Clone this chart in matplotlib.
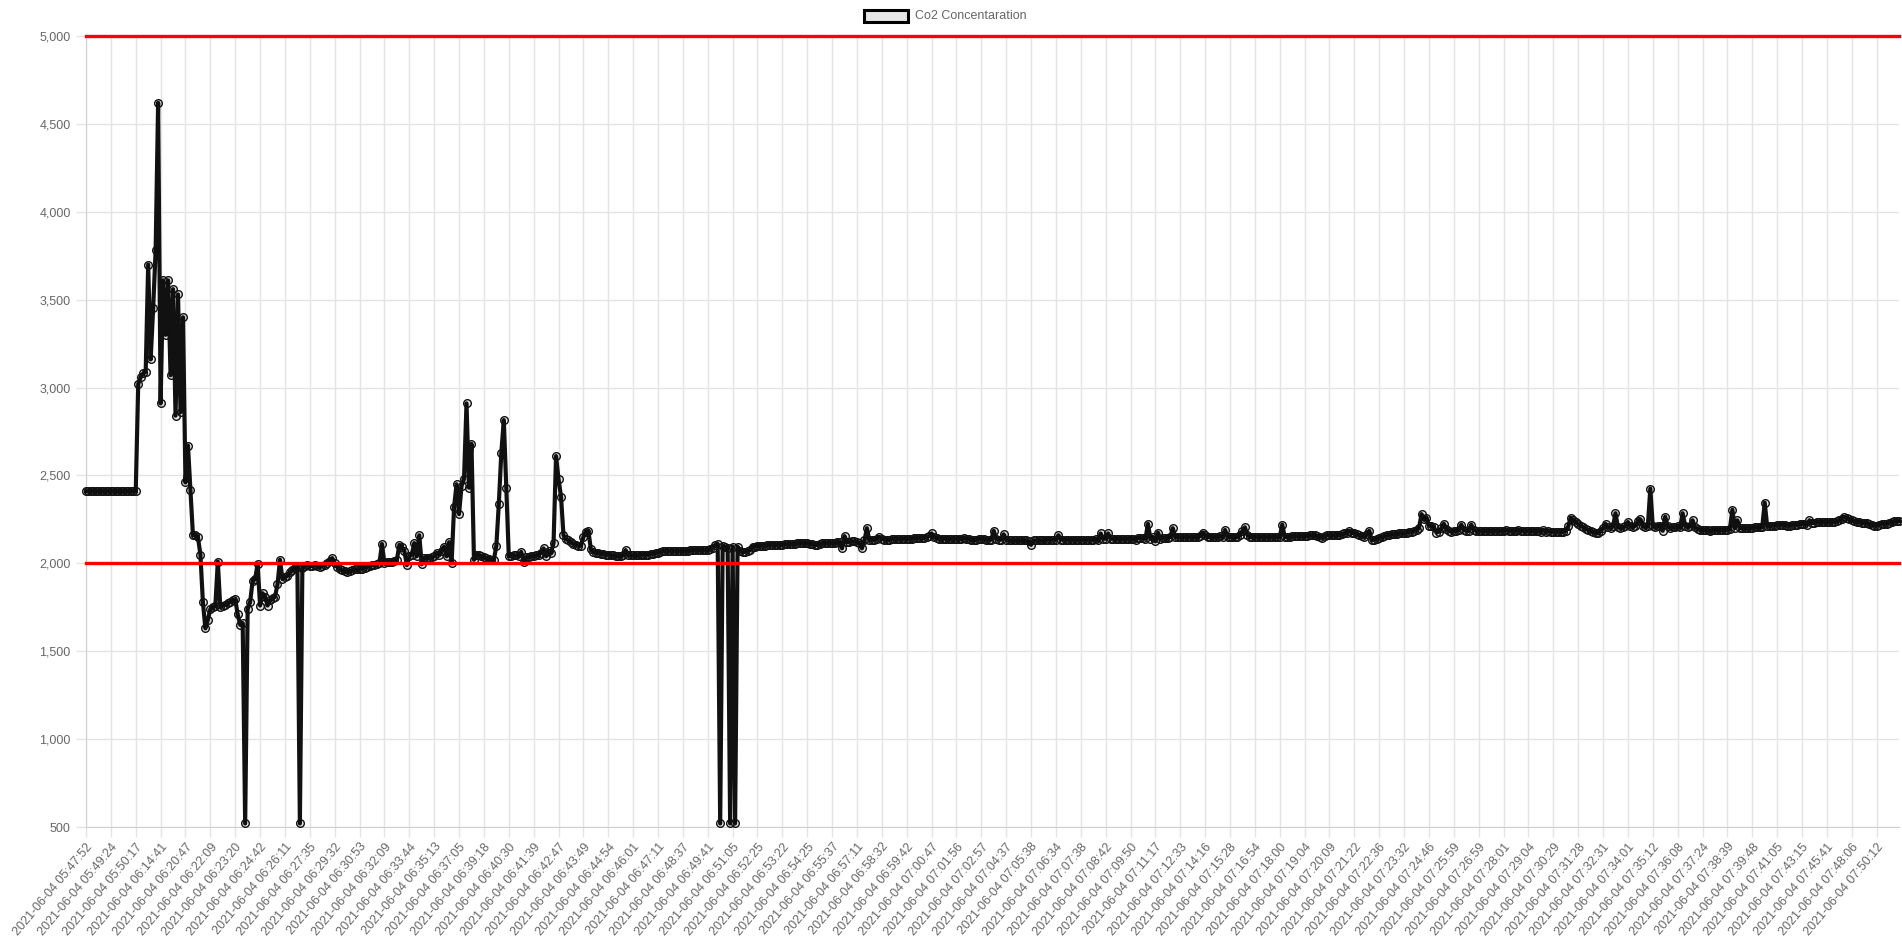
import matplotlib
matplotlib.use("Agg")
import matplotlib.pyplot as plt
from matplotlib.ticker import FuncFormatter, MultipleLocator

plt.rcParams["font.family"] = ["Liberation Sans", "DejaVu Sans"]

# tick labels shown on the category axis (one every 10 readings)
day = "2021-06-04"
tick_times = [
    "05:47:52", "05:49:24", "05:50:17", "06:14:41", "06:20:47", "06:22:09",
    "06:23:20", "06:24:42", "06:26:11", "06:27:35", "06:29:32", "06:30:53",
    "06:32:09", "06:33:44", "06:35:13", "06:37:05", "06:39:18", "06:40:30",
    "06:41:39", "06:42:47", "06:43:49", "06:44:54", "06:46:01", "06:47:11",
    "06:48:37", "06:49:41", "06:51:05", "06:52:25", "06:53:22", "06:54:25",
    "06:55:37", "06:57:11", "06:58:32", "06:59:42", "07:00:47", "07:01:56",
    "07:02:57", "07:04:37", "07:05:38", "07:06:34", "07:07:38", "07:08:42",
    "07:09:50", "07:11:17", "07:12:33", "07:14:16", "07:15:28", "07:16:54",
    "07:18:00", "07:19:04", "07:20:09", "07:21:22", "07:22:36", "07:23:32",
    "07:24:46", "07:25:59", "07:26:59", "07:28:01", "07:29:04", "07:30:29",
    "07:31:28", "07:32:31", "07:34:01", "07:35:12", "07:36:08", "07:37:24",
    "07:38:39", "07:39:48", "07:41:05", "07:43:15", "07:45:41", "07:48:06",
    "07:50:12",
]
tick_labels = [f"{day} {t}" for t in tick_times]
readings_per_tick = 10

# Co2 readings (ppm), one row per labelled interval
co2 = [
    2410, 2410, 2410, 2410, 2410, 2410, 2410, 2410, 2410, 2410,
    2410, 2410, 2410, 2410, 2410, 2410, 2410, 2410, 2410, 2410,
    2410, 3020, 3060, 3080, 3090, 3700, 3160, 3450, 3780, 4620,
    2910, 3610, 3300, 3610, 3070, 3560, 2840, 3530, 2860, 3400,
    2460, 2670, 2420, 2160, 2160, 2150, 2050, 1780, 1630, 1680,
    1740, 1750, 1755, 2010, 1750, 1760, 1765, 1775, 1780, 1790,
    1795, 1710, 1650, 1660, 520, 1740, 1780, 1900, 1910, 1995,
    1760, 1830, 1810, 1760, 1790, 1800, 1810, 1880, 2020, 1910,
    1920, 1930, 1950, 1960, 1975, 1980, 520, 1975, 1985, 1990,
    1985, 1985, 1990, 1985, 1980, 1985, 1990, 2000, 2015, 2030,
    2000, 1980, 1965, 1960, 1955, 1950, 1955, 1960, 1965, 1965,
    1970, 1970, 1975, 1980, 1985, 1990, 1990, 1995, 2000, 2110,
    2000, 2005, 2010, 2010, 2015, 2020, 2105, 2095, 2070, 1990,
    2040, 2050, 2115, 2040, 2160, 1995, 2030, 2030, 2030, 2035,
    2040, 2060, 2050, 2070, 2095, 2040, 2120, 2000, 2320, 2450,
    2280, 2440, 2480, 2910, 2430, 2680, 2020, 2050, 2045, 2040,
    2035, 2030, 2025, 2020, 2020, 2100, 2340, 2630, 2815, 2430,
    2040, 2040, 2045, 2045, 2040, 2065, 2010, 2035, 2035, 2040,
    2040, 2045, 2050, 2060, 2085, 2040, 2070, 2060, 2115, 2610,
    2480, 2380, 2160, 2140, 2130, 2120, 2110, 2105, 2100, 2100,
    2150, 2180, 2185, 2080, 2065, 2060, 2060, 2055, 2055, 2050,
    2050, 2045, 2045, 2040, 2040, 2040, 2045, 2075, 2045, 2045,
    2045, 2045, 2045, 2050, 2050, 2050, 2050, 2055, 2055, 2060,
    2060, 2065, 2070, 2070, 2070, 2070, 2070, 2070, 2070, 2070,
    2070, 2070, 2070, 2075, 2075, 2075, 2075, 2075, 2075, 2075,
    2075, 2080, 2090, 2105, 2110, 520, 2100, 2095, 2090, 520,
    2095, 520, 2095, 2070, 2065, 2065, 2070, 2075, 2095, 2095,
    2100, 2100, 2100, 2100, 2105, 2105, 2105, 2105, 2105, 2105,
    2105, 2110, 2110, 2110, 2110, 2110, 2115, 2115, 2115, 2115,
    2115, 2110, 2110, 2105, 2105, 2110, 2115, 2115, 2115, 2115,
    2115, 2115, 2120, 2120, 2085, 2155, 2120, 2120, 2125, 2125,
    2120, 2115, 2085, 2130, 2200, 2130, 2135, 2135, 2140, 2150,
    2140, 2135, 2130, 2135, 2140, 2140, 2140, 2140, 2140, 2140,
    2140, 2140, 2140, 2145, 2145, 2145, 2145, 2145, 2150, 2155,
    2170, 2150, 2145, 2140, 2140, 2140, 2140, 2140, 2140, 2140,
    2140, 2140, 2140, 2145, 2140, 2140, 2135, 2130, 2135, 2140,
    2140, 2140, 2135, 2135, 2135, 2185, 2140, 2135, 2135, 2165,
    2135, 2130, 2130, 2130, 2130, 2130, 2130, 2130, 2130, 2125,
    2105, 2130, 2130, 2130, 2130, 2130, 2135, 2135, 2135, 2135,
    2135, 2160, 2135, 2135, 2135, 2135, 2135, 2135, 2135, 2135,
    2135, 2135, 2135, 2135, 2135, 2135, 2140, 2130, 2170, 2140,
    2140, 2170, 2140, 2140, 2140, 2140, 2140, 2140, 2140, 2140,
    2140, 2140, 2135, 2145, 2145, 2145, 2140, 2225, 2140, 2150,
    2125, 2175, 2140, 2145, 2145, 2145, 2150, 2200, 2150, 2150,
    2150, 2150, 2150, 2150, 2150, 2150, 2150, 2150, 2155, 2175,
    2160, 2150, 2150, 2150, 2150, 2150, 2155, 2150, 2190, 2150,
    2150, 2150, 2150, 2150, 2160, 2185, 2205, 2160, 2150, 2150,
    2150, 2150, 2150, 2150, 2150, 2150, 2150, 2150, 2150, 2150,
    2150, 2220, 2150, 2150, 2150, 2155, 2155, 2155, 2155, 2155,
    2155, 2155, 2160, 2160, 2160, 2155, 2150, 2145, 2155, 2160,
    2160, 2160, 2160, 2160, 2160, 2165, 2170, 2175, 2185, 2175,
    2170, 2165, 2160, 2155, 2150, 2165, 2185, 2130, 2135, 2140,
    2145, 2150, 2155, 2160, 2160, 2165, 2165, 2165, 2170, 2170,
    2170, 2175, 2180, 2180, 2185, 2190, 2200, 2280, 2250, 2260,
    2215, 2210, 2205, 2175, 2180, 2200, 2225, 2195, 2185, 2180,
    2185, 2185, 2190, 2220, 2190, 2185, 2185, 2220, 2190, 2185,
    2185, 2185, 2185, 2185, 2185, 2185, 2185, 2185, 2185, 2185,
    2185, 2190, 2185, 2185, 2185, 2185, 2190, 2185, 2185, 2185,
    2185, 2185, 2185, 2185, 2185, 2180, 2190, 2180, 2185, 2180,
    2180, 2180, 2180, 2180, 2180, 2185, 2210, 2260, 2245, 2235,
    2225, 2215, 2205, 2195, 2190, 2185, 2180, 2175, 2170, 2185,
    2200, 2225, 2205, 2200, 2210, 2285, 2205, 2200, 2205, 2210,
    2235, 2210, 2205, 2215, 2240, 2250, 2210, 2205, 2210, 2425,
    2210, 2205, 2210, 2215, 2185, 2265, 2210, 2200, 2205, 2205,
    2210, 2205, 2285, 2215, 2205, 2210, 2245, 2205, 2195, 2190,
    2190, 2190, 2190, 2185, 2190, 2190, 2190, 2190, 2190, 2190,
    2190, 2195, 2305, 2200, 2245, 2200, 2200, 2200, 2200, 2200,
    2200, 2205, 2205, 2205, 2205, 2345, 2210, 2210, 2215, 2215,
    2220, 2220, 2220, 2220, 2215, 2215, 2220, 2220, 2220, 2225,
    2225, 2225, 2220, 2245, 2230, 2230, 2235, 2235, 2235, 2235,
    2235, 2235, 2235, 2235, 2240, 2245, 2255, 2265, 2260, 2250,
    2245, 2240, 2235, 2235, 2230, 2230, 2230, 2225, 2220, 2215,
    2215, 2220, 2225, 2225, 2225, 2230, 2235, 2240, 2240, 2240,
]
limit_lines = [5000, 2000]

W, H = 1902, 951
fig = plt.figure(figsize=(W / 100, H / 100), dpi=100)
ax = fig.add_axes([86 / W, 1 - 827 / H, (1899 - 86) / W, (827 - 36) / H])

grid_c = "#e4e4e4"
text_c = "#666666"

x = list(range(len(co2)))
ax.plot(x, co2, color="#111111", lw=3.0, marker="o", ms=5.5,
        mfc=(0, 0, 0, 0.1), mec="#111111", mew=1.0, zorder=3,
        solid_joinstyle="round", clip_on=False)

for v in limit_lines:
    ax.axhline(v, color="#ff0000", lw=2.4, zorder=4, clip_on=False)

ax.set_xlim(0, len(co2) - 1)
ax.set_ylim(500, 5000)
ax.yaxis.set_major_locator(MultipleLocator(500))
ax.yaxis.set_major_formatter(FuncFormatter(lambda v, p: f"{int(v):,}"))

ticks = list(range(0, len(tick_labels) * readings_per_tick, readings_per_tick))
ax.set_xticks(ticks)
ax.set_xticklabels(tick_labels, rotation=50, ha="right", rotation_mode="anchor")

ax.grid(True, color=grid_c, lw=1, zorder=0)
ax.set_axisbelow(True)
for s in ["top", "right"]:
    ax.spines[s].set_visible(False)
for s in ["left", "bottom"]:
    ax.spines[s].set_color("#d0d0d0")
ax.tick_params(axis="both", colors=grid_c, labelcolor=text_c,
               labelsize=9, length=7, width=1)
ax.tick_params(axis="x", pad=3)
ax.tick_params(axis="y", pad=4)

# legend (Chart.js style box at top centre)
fig.patches.append(plt.Rectangle((864 / W, 1 - 22 / H), 44 / W, 12 / H,
                                 transform=fig.transFigure, facecolor="#e6e6e6",
                                 edgecolor="#000000", lw=2.2))
fig.text(915 / W, 1 - 16 / H, "Co2 Concentaration", color=text_c,
         fontsize=9, va="center", ha="left")

fig.savefig("out.png", dpi=100)
